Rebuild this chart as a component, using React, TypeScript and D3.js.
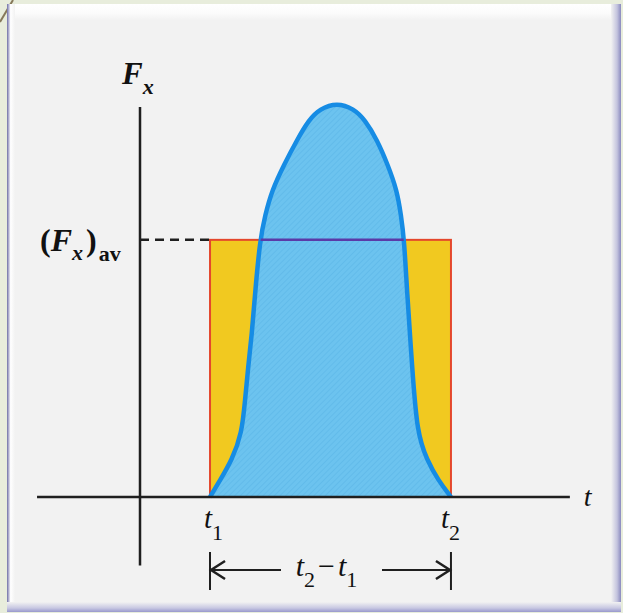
import { useMemo } from "react";
import * as d3 from "d3";

const W = 623;
const H = 613;

// pulse F_x(t) (t in arbitrary units, F peak = 10)
const pulseT = [2.02, 2.31, 2.65, 2.94, 3.03, 3.12, 3.23, 3.31, 3.46, 3.61, 3.81, 4.15, 4.53, 4.87, 5.19, 5.68, 6.17, 6.49, 6.84, 7.15, 7.41, 7.53, 7.62, 7.7, 7.85, 7.99, 8.28, 8.6, 8.97];
const pulseF = [0, 0.43, 0.94, 1.63, 2.47, 3.32, 4.18, 5.1, 6.56, 7.19, 7.83, 8.47, 9.11, 9.62, 9.9, 10.06, 9.9, 9.62, 9.11, 8.47, 7.83, 7.19, 6.56, 5.28, 3.32, 1.63, 0.94, 0.43, 0];

const t1 = 2.02;
const t2 = 8.97;
const fAvg = 6.56;

const tExtent = [-2.97, 12.4];
const fExtent = [-1.75, 9.95];

const serif = "'Liberation Serif', 'Times New Roman', serif";
const AXIS = "#1f1f1f";

const App = () => {
  const x = d3.scaleLinear().domain([0, 9]).range([140, 452]);
  const y = d3.scaleLinear().domain([0, 10]).range([497, 105]);

  const pts = useMemo(() => pulseT.map((t, i) => [t, pulseF[i]] as [number, number]), []);

  const area = d3
    .area<[number, number]>()
    .x((d) => x(d[0]))
    .y0(y(0))
    .y1((d) => y(d[1]))
    .curve(d3.curveBasis)(pts);

  const line = d3
    .line<[number, number]>()
    .x((d) => x(d[0]))
    .y((d) => y(d[1]))
    .curve(d3.curveBasis)(pts);

  const x1 = x(t1);
  const x2 = x(t2);
  const yA = y(fAvg);
  const y0 = y(0);

  const bracketY = 570;
  const arrowLeftEnd = 281;
  const arrowRightStart = 382;

  return (
    <svg width={W} height={H} style={{ position: "absolute", left: 0, top: 0 }}>
      <defs>
        <linearGradient id="topBevel" x1="0" y1="0" x2="0" y2="1">
          <stop offset="0" stopColor="#ffffff" />
          <stop offset="0.6" stopColor="#fbfbfb" />
          <stop offset="1" stopColor="#f2f2f2" />
        </linearGradient>
        <linearGradient id="leftBevel" x1="0" y1="0" x2="1" y2="0">
          <stop offset="0" stopColor="#6e6ea6" />
          <stop offset="0.45" stopColor="#ffffff" />
          <stop offset="1" stopColor="#f2f2f2" />
        </linearGradient>
        <linearGradient id="rightBevel" x1="0" y1="0" x2="1" y2="0">
          <stop offset="0" stopColor="#f2f2f2" />
          <stop offset="0.6" stopColor="#c4c4de" />
          <stop offset="1" stopColor="#8a8abf" />
        </linearGradient>
        <linearGradient id="bottomBevel" x1="0" y1="0" x2="0" y2="1">
          <stop offset="0" stopColor="#f2f2f2" />
          <stop offset="0.6" stopColor="#c8c8e2" />
          <stop offset="1" stopColor="#9898cc" />
        </linearGradient>
        <pattern id="hatch" width="4" height="4" patternUnits="userSpaceOnUse" patternTransform="rotate(45)">
          <rect width="4" height="4" fill="#6cc3ef" />
          <line x1="0" y1="0" x2="0" y2="4" stroke="#4ea9e0" strokeWidth="1.2" strokeOpacity="0.55" />
        </pattern>
        <clipPath id="pulseClip">
          <path d={area ?? ""} />
        </clipPath>
      </defs>

      {/* page background and framed panel */}
      <rect width={W} height={H} fill="#e8eddc" />
      <line x1={0} y1={22} x2={13} y2={0} stroke="#86795a" strokeWidth={2} />
      <rect x={7} y={4} width={614} height={608} fill="#f2f2f2" />
      <rect x={7} y={4} width={614} height={16} fill="url(#topBevel)" />
      <rect x={7} y={4} width={8} height={608} fill="url(#leftBevel)" />
      <rect x={611} y={4} width={10} height={608} fill="url(#rightBevel)" />
      <rect x={7} y={602} width={614} height={10} fill="url(#bottomBevel)" />

      {/* average force rectangle */}
      <rect x={x1} y={yA} width={x2 - x1} height={y0 - yA} fill="#f1c920" stroke="#e4472c" strokeWidth={2} />

      {/* pulse */}
      <path d={area ?? ""} fill="url(#hatch)" />
      <path d={line ?? ""} fill="none" stroke="#168ce4" strokeWidth={4.5} strokeLinejoin="round" />
      <line x1={x1} y1={yA} x2={x2} y2={yA} stroke="#5a3aa8" strokeWidth={2.5} clipPath="url(#pulseClip)" />

      {/* dashed level */}
      <line x1={x(0)} y1={yA} x2={x1} y2={yA} stroke={AXIS} strokeWidth={2.5} strokeDasharray="9 6" />

      {/* axes */}
      <line x1={x(tExtent[0])} y1={y0} x2={x(tExtent[1])} y2={y0} stroke={AXIS} strokeWidth={2.5} />
      <line x1={x(0)} y1={y(fExtent[0])} x2={x(0)} y2={y(fExtent[1])} stroke={AXIS} strokeWidth={2.5} />

      {/* labels */}
      <text x={x(0) - 18} y={84} fontFamily={serif} fontSize={31} fontWeight="bold" fontStyle="italic" fill="#111">
        F
        <tspan dy={10} fontSize={22}>x</tspan>
      </text>
      <text x={40} y={251} fontFamily={serif} fontSize={32} fontWeight="bold" fill="#111">
        (
        <tspan fontStyle="italic">F</tspan>
        <tspan dy={9} fontSize={22} fontStyle="italic">x</tspan>
        <tspan dx={3} dy={-9}>)</tspan>
        <tspan dx={2} dy={10} fontSize={22}>av</tspan>
      </text>
      <text x={x(tExtent[1]) + 14} y={506} fontFamily={serif} fontSize={28} fontStyle="italic" fill="#111">
        t
      </text>

      <text x={x1 - 6} y={528} fontFamily={serif} fontSize={29} fontStyle="italic" fill="#111">
        t
        <tspan dy={12} fontSize={22} fontStyle="normal">1</tspan>
      </text>
      <text x={x2 - 10} y={528} fontFamily={serif} fontSize={29} fontStyle="italic" fill="#111">
        t
        <tspan dy={12} fontSize={22} fontStyle="normal">2</tspan>
      </text>

      {/* duration bracket */}
      <g stroke={AXIS} strokeWidth={2} fill="none">
        <line x1={x1} y1={552} x2={x1} y2={590} />
        <line x1={x2} y1={552} x2={x2} y2={590} />
        <line x1={x1} y1={bracketY} x2={arrowLeftEnd} y2={bracketY} />
        <polyline points={`${x1 + 15},${bracketY - 9} ${x1 + 1},${bracketY} ${x1 + 15},${bracketY + 9}`} strokeWidth={2.5} />
        <line x1={arrowRightStart} y1={bracketY} x2={x2} y2={bracketY} />
        <polyline points={`${x2 - 15},${bracketY - 9} ${x2 - 1},${bracketY} ${x2 - 15},${bracketY + 9}`} strokeWidth={2.5} />
      </g>
      <text x={(x1 + x2) / 2 - 4} y={576} textAnchor="middle" fontFamily={serif} fontSize={30} fontStyle="italic" fill="#111">
        t
        <tspan dy={11} fontSize={22} fontStyle="normal">2</tspan>
        <tspan dx={3} dy={-11} fontStyle="normal">−</tspan>
        <tspan dx={3}>t</tspan>
        <tspan dy={11} fontSize={22} fontStyle="normal">1</tspan>
      </text>
    </svg>
  );
};

export default App;
